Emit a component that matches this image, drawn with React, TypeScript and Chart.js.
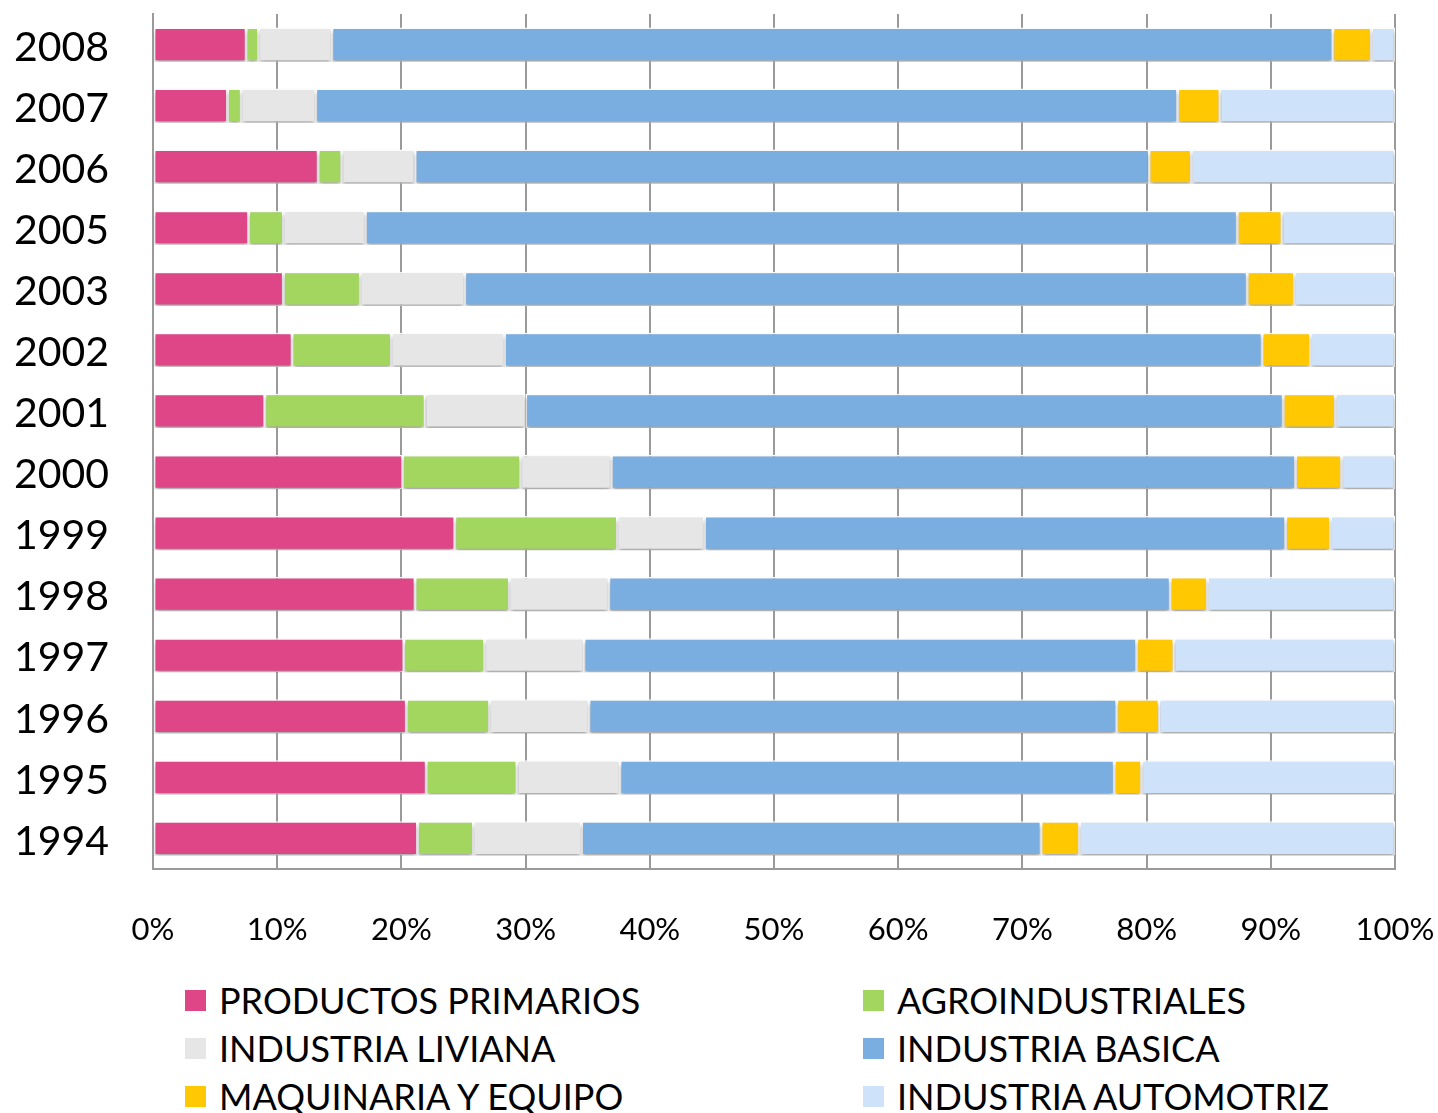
import React, { useEffect, useRef } from "react";
import { Chart, registerables } from "chart.js";

Chart.register(...registerables);

const years = ["2008", "2007", "2006", "2005", "2003", "2002", "2001", "2000", "1999", "1998", "1997", "1996", "1995", "1994"];
const seriesNames = ["PRODUCTOS PRIMARIOS", "AGROINDUSTRIALES", "INDUSTRIA LIVIANA", "INDUSTRIA BASICA", "MAQUINARIA Y EQUIPO", "INDUSTRIA AUTOMOTRIZ"];
const seriesColors = ["#DE4687", "#A3D65F", "#E6E6E6", "#7AAEE0", "#FFC800", "#CEE3FA"];

const productosPrimarios = [7.5, 6.0, 13.3, 7.7, 10.5, 11.2, 9.0, 20.1, 24.3, 21.1, 20.2, 20.4, 22.0, 21.3];
const agroindustriales = [1.0, 1.1, 1.9, 2.8, 6.2, 8.0, 12.9, 9.5, 13.1, 7.6, 6.5, 6.7, 7.3, 4.5];
const industriaLiviana = [5.9, 6.0, 5.9, 6.6, 8.4, 9.1, 8.1, 7.3, 7.0, 8.0, 8.0, 8.0, 8.3, 8.7];
const industriaBasica = [80.6, 69.4, 59.1, 70.2, 63.0, 61.0, 61.0, 55.1, 46.8, 45.2, 44.5, 42.5, 39.8, 37.0];
const maquinariaEquipo = [3.1, 3.4, 3.4, 3.6, 3.8, 3.9, 4.2, 3.7, 3.6, 3.0, 3.0, 3.4, 2.2, 3.1];
const industriaAutomotriz = [1.9, 14.1, 16.4, 9.1, 8.1, 6.8, 4.8, 4.3, 5.2, 15.1, 17.8, 19.0, 20.4, 25.4];

const xTicks = [0, 10, 20, 30, 40, 50, 60, 70, 80, 90, 100];

const allSeries = [productosPrimarios, agroindustriales, industriaLiviana, industriaBasica, maquinariaEquipo, industriaAutomotriz];

const FONT = "Lato, 'Open Sans', sans-serif";

export default function App() {
  const ref = useRef<HTMLCanvasElement | null>(null);

  useEffect(() => {
    document.body.style.margin = "0";
    const canvas = ref.current;
    if (!canvas) return;
    const shadowPlugin = {
      id: "barShadow",
      beforeDatasetsDraw(chart: any) {
        const ctx = chart.ctx;
        ctx.save();
        ctx.shadowColor = "rgba(0,0,0,0.35)";
        ctx.shadowBlur = 4;
        ctx.shadowOffsetX = 0;
        ctx.shadowOffsetY = 3;
      },
      afterDatasetsDraw(chart: any) {
        chart.ctx.restore();
      },
    };
    const chart = new Chart(canvas, {
      type: "bar",
      data: {
        labels: years,
        datasets: allSeries.map((d, i) => ({
          label: seriesNames[i],
          data: d,
          backgroundColor: seriesColors[i],
          borderColor: "#FFFFFF",
          borderWidth: 1.5,
          borderSkipped: false,
          categoryPercentage: 1,
          barPercentage: 0.56,
        })),
      },
      options: {
        indexAxis: "y",
        animation: false,
        responsive: false,
        maintainAspectRatio: false,
        layout: { padding: { top: 14, right: 43, left: 0, bottom: 0 } },
        plugins: {
          legend: { display: false },
          tooltip: { enabled: false },
        },
        scales: {
          x: {
            stacked: true,
            min: 0,
            max: 100,
            afterBuildTicks: (axis: any) => {
              axis.ticks = xTicks.map((v) => ({ value: v }));
            },
            afterFit: (axis: any) => {
              axis.height = 960 - 869;
              axis.paddingLeft = 0;
              axis.paddingRight = 0;
            },
            ticks: {
              callback: (v: any) => v + "%",
              color: "#000",
              font: { family: FONT, size: 31 },
              padding: 42,
              maxRotation: 0,
            },
            grid: { color: "#9A9A9A", lineWidth: 2, drawTicks: false },
            border: { color: "#9A9A9A", width: 2 },
          },
          y: {
            stacked: true,
            afterFit: (axis: any) => {
              axis.width = 153;
              axis.paddingTop = 0;
              axis.paddingBottom = 0;
            },
            ticks: {
              color: "#000",
              font: { family: FONT, size: 41 },
              padding: 44,
              labelOffset: 3,
            },
            grid: { display: false, drawTicks: false },
            border: { color: "#9A9A9A", width: 2 },
          },
        },
      },
      plugins: [shadowPlugin],
    } as any);
    return () => chart.destroy();
  }, []);

  const legendRows = [
    [0, 1],
    [2, 3],
    [4, 5],
  ];

  return (
    <div style={{ position: "relative", width: 1438, height: 1113, background: "#fff", overflow: "hidden" }}>
      <canvas ref={ref} width={1438} height={960} style={{ position: "absolute", left: 0, top: 0, width: 1438, height: 960 }} />
      {legendRows.map((row, r) =>
        row.map((si, c) => (
          <div
            key={si}
            style={{
              position: "absolute",
              left: c === 0 ? 185 : 863,
              top: 976 + r * 48,
              height: 48,
              display: "flex",
              alignItems: "center",
              fontFamily: FONT,
              fontSize: 36,
              color: "#000",
              whiteSpace: "nowrap",
            }}
          >
            <span style={{ display: "inline-block", width: 21, height: 21, background: seriesColors[si], marginRight: 13 }} />
            <span>{seriesNames[si]}</span>
          </div>
        ))
      )}
    </div>
  );
}
